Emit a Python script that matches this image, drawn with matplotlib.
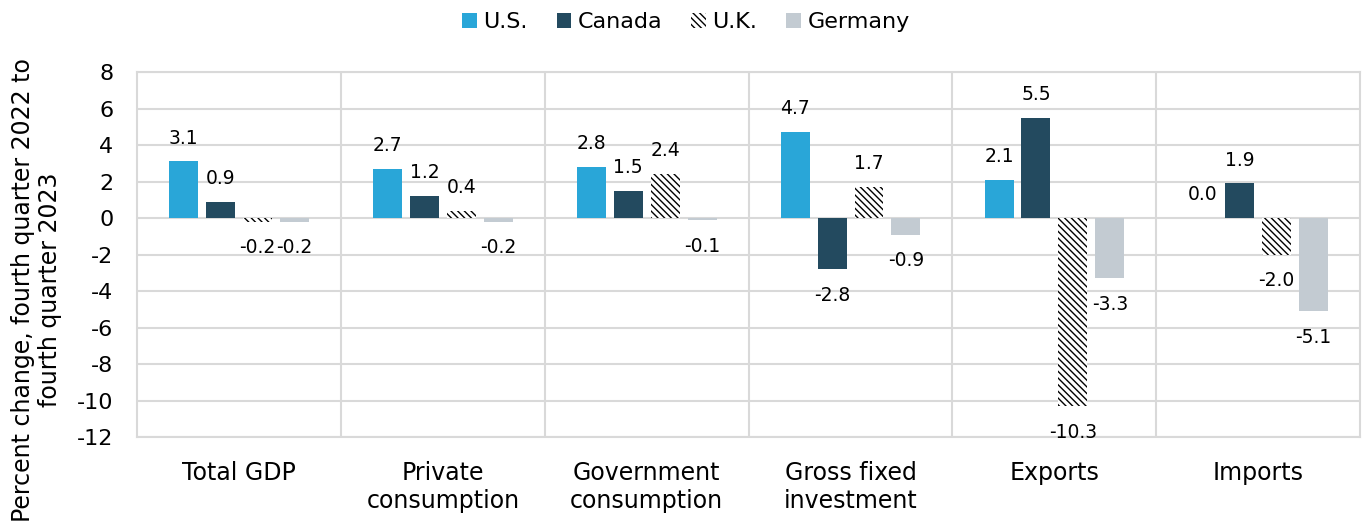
import matplotlib
matplotlib.use("Agg")
import matplotlib.pyplot as plt
import numpy as np

plt.rcParams['font.family'] = ['DejaVu Sans']
plt.rcParams['hatch.linewidth'] = 1.0

categories = ["Total GDP", "Private\nconsumption", "Government\nconsumption",
              "Gross fixed\ninvestment", "Exports", "Imports"]
series_names = ["U.S.", "Canada", "U.K.", "Germany"]
us = [3.1, 2.7, 2.8, 4.7, 2.1, 0.0]
canada = [0.9, 1.2, 1.5, -2.8, 5.5, 1.9]
uk = [-0.2, 0.4, 2.4, 1.7, -10.3, -2.0]
germany = [-0.2, -0.2, -0.1, -0.9, -3.3, -5.1]
yticks = list(range(-12, 9, 2))

colors = ["#29A6D8", "#234A5F", "white", "#C3CBD2"]
hatches = [None, None, "\\\\\\\\\\", None]
series = [us, canada, uk, germany]

fig = plt.figure(figsize=(13.72, 5.26), dpi=100)
ax = fig.add_axes([0.0999, 0.169, 0.8915, 0.694])

x = np.arange(len(categories))
width = 0.142
step = 0.181
offsets = [-1.5, -0.5, 0.5, 1.5]

handles = []
for vals, name, col, h, off in zip(series, series_names, colors, hatches, offsets):
    b = ax.bar(x + off * step, vals, width, color=col, hatch=h,
               edgecolor="black" if h else col, linewidth=0,
               label=name, zorder=3)
    handles.append(b)
    for xi, v in zip(x + off * step, vals):
        if v >= 0:
            ax.annotate(f"{v:.1f}", (xi, v), xytext=(0, 10), textcoords="offset points",
                        ha="center", va="bottom", fontsize=13.5, color="black")
        else:
            ax.annotate(f"{v:.1f}", (xi, v), xytext=(0, -12), textcoords="offset points",
                        ha="center", va="top", fontsize=13.5, color="black")

ax.set_ylim(-12, 8)
ax.set_xlim(-0.5, len(categories) - 0.5)
ax.set_yticks(yticks)
ax.set_yticklabels([str(t) for t in yticks], fontsize=16)
ax.set_xticks(x)
ax.set_xticklabels(categories, fontsize=17, va="top", linespacing=1.25)
ax.tick_params(axis="x", length=0, pad=17)
ax.tick_params(axis="y", length=0, pad=17)
ax.grid(axis="y", color="#D9D9D9", linewidth=1.5, zorder=0)
for b in np.arange(0.5, len(categories) - 0.5, 1):
    ax.axvline(b, color="#D9D9D9", linewidth=1.5, zorder=0)
for s in ax.spines.values():
    s.set_color("#D9D9D9")
    s.set_linewidth(1.5)

fig.text(36.5 / 1372, 1 - 290 / 526,
         "Percent change, fourth quarter 2022 to\nfourth quarter 2023",
         fontsize=17, rotation=90, ha="center", va="center",
         multialignment="center", linespacing=1.15)

fig.legend(handles=handles, labels=series_names, loc="upper center",
           bbox_to_anchor=(0.5, 1.015), ncol=4, frameon=False, fontsize=16,
           handlelength=0.65, handleheight=0.65, handletextpad=0.3, columnspacing=1.3)

fig.savefig("out.png", dpi=100)
